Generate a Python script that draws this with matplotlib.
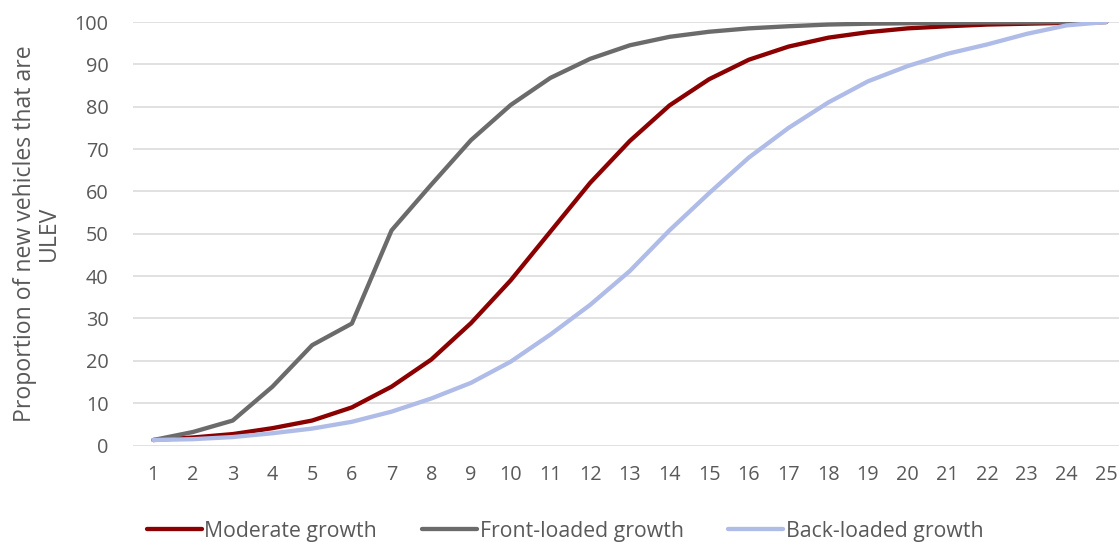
import matplotlib
matplotlib.use("Agg")
import matplotlib.pyplot as plt

plt.rcParams['font.family'] = ['Open Sans', 'DejaVu Sans']

years = list(range(1, 26))
moderate = [1.3, 1.9, 2.7, 4.1, 5.9, 9.0, 13.9, 20.3, 28.9, 39.0, 50.5, 62.0,
            71.9, 80.3, 86.5, 91.1, 94.2, 96.3, 97.6, 98.5, 99.0, 99.4, 99.6, 99.8, 100.0]
front_loaded = [1.3, 3.2, 5.9, 13.9, 23.7, 28.8, 50.8, 61.6, 72.1, 80.4, 86.8, 91.3,
                94.5, 96.5, 97.7, 98.5, 99.0, 99.4, 99.6, 99.7, 99.8, 99.9, 99.9, 100.0, 100.0]
back_loaded = [1.3, 1.5, 2.0, 2.9, 4.0, 5.6, 8.0, 11.1, 14.8, 19.8, 26.2, 33.2,
               41.2, 50.8, 59.6, 68.0, 75.0, 81.0, 86.0, 89.6, 92.5, 94.7, 97.2, 99.2, 100.0]
yticks = list(range(0, 101, 10))

TEXT = '#595959'
fig = plt.figure(figsize=(11.19, 5.42), dpi=100)
ax = fig.add_axes([0.1193, 0.178, 0.887, 0.7814])

ax.plot(years, moderate, color='#8B0000', lw=3.1, label='Moderate growth',
        solid_capstyle='round', zorder=3)
ax.plot(years, front_loaded, color='#6B6B6B', lw=3.1, label='Front-loaded growth',
        solid_capstyle='round', zorder=3)
ax.plot(years, back_loaded, color='#B0BCE8', lw=3.1, label='Back-loaded growth',
        solid_capstyle='round', zorder=3)

ax.set_xlim(0.5, 25.5)
ax.set_ylim(0, 100)
ax.set_xticks(years)
ax.set_yticks(yticks)
ax.grid(axis='y', color='#D9D9D9', lw=1.1)
ax.set_axisbelow(True)
for s in ax.spines.values():
    s.set_visible(False)
ax.tick_params(axis='both', length=0, colors=TEXT, labelsize=14.3)
ax.tick_params(axis='y', pad=18)
ax.tick_params(axis='x', pad=14)

ax.set_ylabel('Proportion of new vehicles that are\nULEV', color=TEXT,
              fontsize=16.6, labelpad=10, linespacing=1.0)

fig.legend(loc='center', bbox_to_anchor=(0.505, 0.02), ncol=3, frameon=False,
           fontsize=15.3, handlelength=2.6, handletextpad=0.12,
           columnspacing=2.1, labelcolor=TEXT)

fig.savefig('out.png', dpi=100)
